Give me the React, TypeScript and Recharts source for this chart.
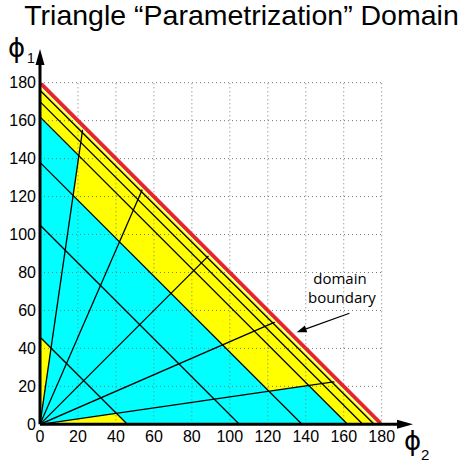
import React from 'react'
import { ComposedChart, Area, Line, XAxis, YAxis, ReferenceLine } from 'recharts'

// rays from the origin, given by their tip on the rim: [phi2, phi1]
const rayTips: [number, number][] = [
  [22.5, 155.5],
  [54, 124],
  [89, 89],
  [124, 54],
  [155.5, 22.5],
]
// level lines phi1 + phi2 = c
const levels = [46, 105, 138, 162, 170, 176]
const rimLevel = 178
const edge = 180
const ticks = [0, 20, 40, 60, 80, 100, 120, 140, 160, 180]
const gridTicks = [20, 40, 60, 80, 100, 120, 140, 160, 180]

// annotation arrow, tail -> tip (phi2, phi1)
const noteTail = { x: 163, y: 58.5 }
const noteTip = { x: 135.2, y: 48.5 }

const CYAN = '#00ffff'
const YELLOW = '#ffff00'
const RED = '#e3262c'

// point where a ray crosses the level phi1 + phi2 = c
const at = (ray: [number, number], c: number) => {
  const s = c / (ray[0] + ray[1])
  return { x: ray[0] * s, y: ray[1] * s }
}

const first = rayTips[0]
const last = rayTips[rayTips.length - 1]

// filled regions as [low, high] ranges over phi2
const outerTri = [
  { x: 0, r: [0, edge] },
  { x: edge, r: [0, 0] },
]
const innerTri = [
  { x: 0, r: [0, levels[3]] },
  { x: levels[3], r: [0, 0] },
]
const midA = at(first, levels[2])
const midB = at(first, levels[3])
const midC = at(last, levels[2])
const midD = at(last, levels[3])
const midBand = [
  { x: midA.x, r: [midA.y, midA.y] },
  { x: midB.x, r: [levels[2] - midB.x, midB.y] },
  { x: midC.x, r: [midC.y, levels[3] - midC.x] },
  { x: midD.x, r: [midD.y, midD.y] },
]
const p = at(first, levels[0])
const leftWedge = [
  { x: 0, r: [0, levels[0]] },
  { x: p.x, r: [p.y, p.y] },
]
const q = at(last, levels[0])
const bottomWedge = [
  { x: 0, r: [0, 0] },
  { x: q.x, r: [0, q.y] },
  { x: levels[0], r: [0, 0] },
]

const diag = (c: number) => [
  { x: 0, y: c },
  { x: c, y: 0 },
]

const arrowShape = (head: number, half: number, width: number) => (props: any) => {
  const { x1, y1, x2, y2 } = props
  const a = Math.atan2(y2 - y1, x2 - x1)
  const bx = x2 - head * Math.cos(a)
  const by = y2 - head * Math.sin(a)
  const nx = -Math.sin(a) * half
  const ny = Math.cos(a) * half
  return (
    <g>
      <line x1={x1} y1={y1} x2={bx} y2={by} stroke="#000" strokeWidth={width} />
      <polygon points={`${x2},${y2} ${bx + nx},${by + ny} ${bx - nx},${by - ny}`} fill="#000" />
    </g>
  )
}

const tickStyle = { fontFamily: 'Liberation Sans, Arial, sans-serif', fontSize: 16, fill: '#000' }

export default function App() {
  return (
    <div style={{ position: 'absolute', left: 0, top: 0, width: 464, height: 463, background: '#fff' }}>
      <ComposedChart
        width={464}
        height={463}
        margin={{ top: 82.7, right: 82.3, bottom: 0, left: 0 }}
      >
        <XAxis
          type="number"
          dataKey="x"
          domain={[0, edge]}
          ticks={ticks}
          allowDataOverflow
          axisLine={false}
          tickLine={false}
          tickSize={0}
          tickMargin={6}
          height={38.7}
          tick={tickStyle}
        />
        <YAxis
          type="number"
          domain={[0, edge]}
          ticks={ticks}
          allowDataOverflow
          axisLine={false}
          tickLine={false}
          tickSize={0}
          tickMargin={4}
          width={40}
          tick={tickStyle}
        />

        <Area data={outerTri} dataKey="r" type="linear" fill={YELLOW} fillOpacity={1} stroke="none" isAnimationActive={false} />
        <Area data={innerTri} dataKey="r" type="linear" fill={CYAN} fillOpacity={1} stroke="none" isAnimationActive={false} />
        <Area data={midBand} dataKey="r" type="linear" fill={YELLOW} fillOpacity={1} stroke="none" isAnimationActive={false} />
        <Area data={leftWedge} dataKey="r" type="linear" fill={YELLOW} fillOpacity={1} stroke="none" isAnimationActive={false} />
        <Area data={bottomWedge} dataKey="r" type="linear" fill={YELLOW} fillOpacity={1} stroke="none" isAnimationActive={false} />

        {gridTicks.map((t) => (
          <ReferenceLine
            key={`gx${t}`}
            segment={[{ x: t, y: 0 }, { x: t, y: edge }]}
            stroke="#777"
            strokeDasharray="1 3"
            ifOverflow="visible"
          />
        ))}
        {gridTicks.map((t) => (
          <ReferenceLine
            key={`gy${t}`}
            segment={[{ x: 0, y: t }, { x: edge, y: t }]}
            stroke="#777"
            strokeDasharray="1 3"
            ifOverflow="visible"
          />
        ))}

        {levels.map((c) => (
          <Line key={`l${c}`} data={diag(c)} dataKey="y" type="linear" stroke="#000" strokeWidth={1.3} dot={false} activeDot={false} isAnimationActive={false} />
        ))}
        {rayTips.map((r, i) => (
          <Line
            key={`r${i}`}
            data={[{ x: 0, y: 0 }, { x: r[0], y: r[1] }]}
            dataKey="y"
            type="linear"
            stroke="#000"
            strokeWidth={1.3}
            dot={false}
            activeDot={false}
            isAnimationActive={false}
          />
        ))}
        <Line data={diag(rimLevel)} dataKey="y" type="linear" stroke="#fff" strokeWidth={1.2} dot={false} activeDot={false} isAnimationActive={false} />
        <Line data={diag(edge)} dataKey="y" type="linear" stroke={RED} strokeWidth={3.8} dot={false} activeDot={false} isAnimationActive={false} />

        <ReferenceLine segment={[{ x: 0, y: 0 }, { x: 196.5, y: 0 }]} ifOverflow="visible" shape={arrowShape(16, 4.5, 3)} />
        <ReferenceLine segment={[{ x: 0, y: 0 }, { x: 0, y: 197.7 }]} ifOverflow="visible" shape={arrowShape(16, 4.5, 3)} />
        <ReferenceLine segment={[noteTail, noteTip]} ifOverflow="visible" shape={arrowShape(10, 3.5, 1.2)} />
      </ComposedChart>

      <svg width={464} height={463} style={{ position: 'absolute', left: 0, top: 0, pointerEvents: 'none' }}>
        <text x={241.5} y={25} textAnchor="middle" fontFamily="Liberation Sans, Arial, sans-serif" fontSize={28.5}>
          Triangle “Parametrization” Domain
        </text>
        <text x={8} y={57} fontFamily="DejaVu Sans, sans-serif" fontSize={26}>ϕ</text>
        <text x={27} y={63} fontFamily="Liberation Sans, Arial, sans-serif" fontSize={14}>1</text>
        <text x={404} y={450} fontFamily="DejaVu Sans, sans-serif" fontSize={26}>ϕ</text>
        <text x={421} y={460} fontFamily="Liberation Sans, Arial, sans-serif" fontSize={15}>2</text>
        <text x={340} y={284} textAnchor="middle" fontFamily="Open Sans, sans-serif" fontSize={15}>domain</text>
        <text x={342} y={303} textAnchor="middle" fontFamily="Open Sans, sans-serif" fontSize={15}>boundary</text>
      </svg>
    </div>
  )
}
